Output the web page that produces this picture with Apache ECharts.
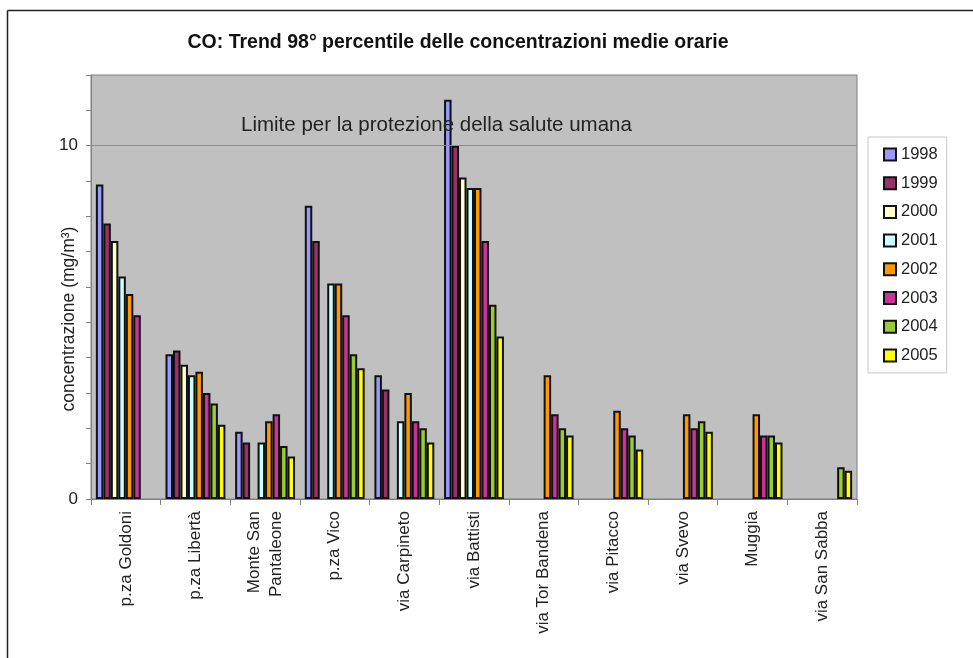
<!DOCTYPE html>
<html>
<head>
<meta charset="utf-8">
<script src="https://cdn.jsdelivr.net/npm/echarts@6/dist/echarts.min.js"></script>
<style>
html,body{margin:0;padding:0;background:#fff;}
#c{width:973px;height:658px;}
</style>
</head>
<body>
<div id="c"></div>
<script>
const categories = ['p.za Goldoni','p.za Libertà','Monte San\nPantaleone','p.za Vico','via Carpineto','via Battisti','via Tor Bandena','via Pitacco','via Svevo','Muggia','via San Sabba'];
const years = ['1998','1999','2000','2001','2002','2003','2004','2005'];
const v1998 = [8.9, 4.1, 1.9, 8.3, 3.5, 11.3, null, null, null, null, null];
const v1999 = [7.8, 4.2, 1.6, 7.3, 3.1, 10.0, null, null, null, null, null];
const v2000 = [7.3, 3.8, null, null, null, 9.1, null, null, null, null, null];
const v2001 = [6.3, 3.5, 1.6, 6.1, 2.2, 8.8, null, null, null, null, null];
const v2002 = [5.8, 3.6, 2.2, 6.1, 3.0, 8.8, 3.5, 2.5, 2.4, 2.4, null];
const v2003 = [5.2, 3.0, 2.4, 5.2, 2.2, 7.3, 2.4, 2.0, 2.0, 1.8, null];
const v2004 = [null, 2.7, 1.5, 4.1, 2.0, 5.5, 2.0, 1.8, 2.2, 1.8, 0.9];
const v2005 = [null, 2.1, 1.2, 3.7, 1.6, 4.6, 1.8, 1.4, 1.9, 1.6, 0.8];
const limitValue = 10;
const yTickLabels = [0, 10];

const seriesValues = [v1998, v1999, v2000, v2001, v2002, v2003, v2004, v2005];
const colors = ['#9999FF','#993366','#FFFFCC','#CCFFFF','#FF9900','#CC3399','#99CC33','#FFFF00'];

const chart = echarts.init(document.getElementById('c'), null, {renderer:'canvas'});
const series = years.map((y, i) => {
  const s = {
    name: y,
    type: 'bar',
    data: seriesValues[i],
    barGap: '0%',
    barCategoryGap: '14%',
    itemStyle: { color: colors[i], borderColor: '#111', borderWidth: 2 },
    animation: false
  };
  if (i === 0) {
    s.markLine = {
      silent: true,
      symbol: 'none',
      label: { show: false },
      lineStyle: { color: '#8a8a8a', width: 1, type: 'solid' },
      data: [{ yAxis: limitValue }],
      animation: false
    };
  }
  return s;
});

chart.setOption({
  animation: false,
  backgroundColor: '#fff',
  textStyle: { fontFamily: 'Liberation Sans, Arial, sans-serif' },
  title: [
    { text: 'CO: Trend 98° percentile delle concentrazioni medie orarie', left: 453, top: 28, textAlign: 'center',
      textStyle: { fontSize: 19.5, fontWeight: 'bold', color: '#111', fontFamily: 'Liberation Sans, Arial, sans-serif' } },
    { text: 'Limite per la protezione della salute umana', left: 236, top: 110,
      textStyle: { fontSize: 20.5, fontWeight: 'normal', color: '#222', fontFamily: 'Liberation Sans, Arial, sans-serif' } }
  ],
  legend: {
    orient: 'vertical',
    left: 868, top: 137,
    data: years,
    itemWidth: 12, itemHeight: 12, itemGap: 11.7,
    icon: 'rect',
    padding: [9, 9, 9, 15],
    borderColor: '#c8c8c8', borderWidth: 1,
    textStyle: { fontSize: 16.5, color: '#222', padding: [0, 0, 0, 0] }
  },
  grid: { left: 91, top: 75, width: 766, height: 424, show: true, backgroundColor: '#C0C0C0', borderColor: '#808080', borderWidth: 1 },
  xAxis: {
    type: 'category',
    data: categories,
    axisLine: { show: true, lineStyle: { color: '#808080', width: 1 } },
    axisTick: { show: true, alignWithLabel: false, length: 6, lineStyle: { color: '#808080' } },
    axisLabel: { rotate: 90, fontSize: 17, color: '#222', margin: 12, interval: 0, lineHeight: 22 },
    splitLine: { show: false }
  },
  yAxis: {
    type: 'value',
    min: 0, max: 12, interval: 1,
    axisLine: { show: true, lineStyle: { color: '#808080', width: 1 } },
    axisTick: { show: true, length: 5, lineStyle: { color: '#808080' } },
    axisLabel: { fontSize: 17, color: '#222', margin: 13,
      formatter: v => (yTickLabels.indexOf(v) >= 0 ? String(v) : '') },
    splitLine: { show: false }
  },
  graphic: [
    { type: 'line', shape: { x1: 7.5, y1: 10.5, x2: 973, y2: 10.5 }, style: { stroke: '#222', lineWidth: 1.5 }, silent: true },
    { type: 'line', shape: { x1: 7.5, y1: 10.5, x2: 7.5, y2: 658 }, style: { stroke: '#222', lineWidth: 1.5 }, silent: true },
    { type: 'text', x: 69, y: 319, rotation: Math.PI / 2,
      style: { text: 'concentrazione (mg/m³)', fontSize: 17.5, fill: '#222', align: 'center', verticalAlign: 'middle', fontFamily: 'Liberation Sans, Arial, sans-serif' } }
  ],
  series: series
});
</script>
</body>
</html>
